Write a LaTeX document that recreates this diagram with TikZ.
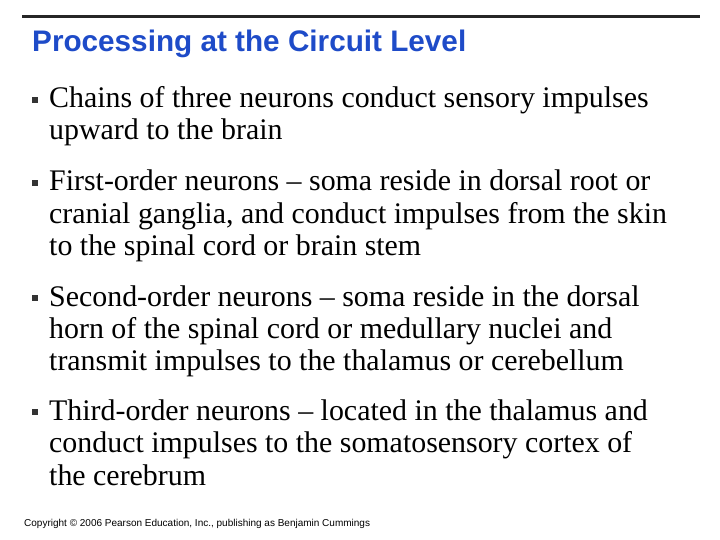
\documentclass[tikz,border=0pt]{standalone}
\usepackage{fontspec}
\setmainfont{Liberation Serif}
\newfontfamily\arial{Liberation Sans}
\definecolor{titleblue}{RGB}{30,75,200}
\begin{document}
\begin{tikzpicture}[x=1pt,y=-1pt,
  line/.style={anchor=base west,inner sep=0pt,font=\fontsize{29.9}{32}\selectfont},
  bul/.style={fill=black!80,minimum size=5.5pt,inner sep=0pt}]
\useasboundingbox (0,0) rectangle (720,540);
\coordinate (l1) at (22,17); \coordinate (l2) at (700,17);
\draw[line width=3pt,black!85] (l1) -- (l2);
\node[anchor=base west,inner sep=0pt,text=titleblue,font=\arial\bfseries\fontsize{29.7}{32}\selectfont] (title) at (32,52) {Processing at the Circuit Level};
\foreach \y/\t [count=\i] in {
 98/{Chains of three neurons conduct sensory impulses},
 130/{upward to the brain},
 181/{First-order neurons -- soma reside in dorsal root or},
 213/{cranial ganglia, and conduct impulses from the skin},
 245/{to the spinal cord or brain stem},
 296/{Second-order neurons -- soma reside in the dorsal},
 328/{horn of the spinal cord or medullary nuclei and},
 360/{transmit impulses to the thalamus or cerebellum},
 410/{Third-order neurons -- located in the thalamus and},
 442/{conduct impulses to the somatosensory cortex of},
 475/{the cerebrum}}
 {\node[line] (t\i) at (49,\y+10) {\t};}
\foreach \y [count=\i] in {100,183,298,412} {\node[bul] (b\i) at (35,\y) {};}
\node[anchor=base west,inner sep=0pt,font=\arial\fontsize{10}{12}\selectfont] (copy) at (24,526) {Copyright \textcopyright{} 2006 Pearson Education, Inc., publishing as Benjamin Cummings};
\end{tikzpicture}
\end{document}
